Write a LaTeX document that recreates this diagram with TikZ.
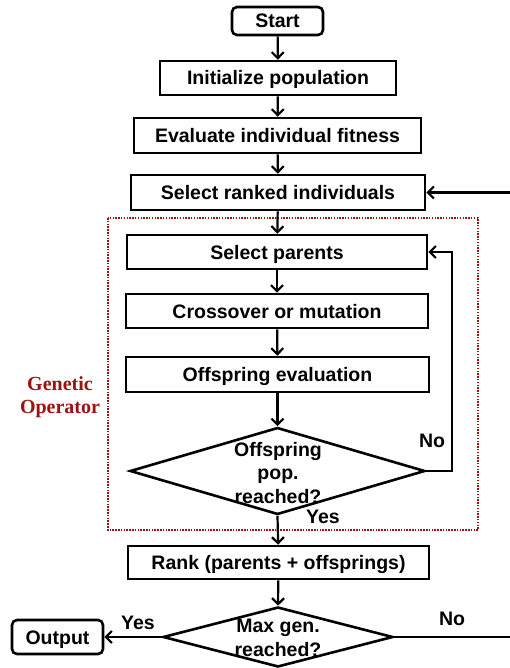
\documentclass[tikz,border=0pt]{standalone}
\usepackage{fontspec}
\setmainfont{Liberation Sans}
\newfontfamily\timesfont{Liberation Serif}
\usetikzlibrary{arrows.meta,shapes.geometric}
\definecolor{gored}{RGB}{155,18,18}
\begin{document}
\begin{tikzpicture}[x=1pt,y=-1pt,
  font=\bfseries\fontsize{19.5}{23.5}\selectfont,
  box/.style={draw, line width=2.6pt, inner sep=0pt, align=center, text height=14pt, text depth=0pt},
  term/.style={box, rounded corners=5pt},
  dia/.style={draw, diamond, line width=2.6pt, inner sep=0pt},
  arr/.style={line width=2.2pt, -{Straight Barb[length=6pt,width=12pt,line width=2.2pt]}},
  lab/.style={inner sep=0pt, align=center}]
\useasboundingbox (0,0) rectangle (510,668);
\clip (0,0) rectangle (510,668);
\fill[white] (0,0) rectangle (510,668);

\node[term, minimum width=91pt, minimum height=28pt] (start) at (277.5,21) {Start};
\node[box, minimum width=236pt, minimum height=34pt] (init) at (278,78) {Initialize population};
\node[box, minimum width=287pt, minimum height=35pt] (eval) at (277.5,135.5) {Evaluate individual fitness};
\node[box, minimum width=294pt, minimum height=35pt] (sel) at (278,192.5) {Select ranked individuals};
\node[box, minimum width=300pt, minimum height=34pt] (par) at (277,252) {Select parents};
\node[box, minimum width=302pt, minimum height=34pt] (cross) at (277,311) {Crossover or mutation};
\node[box, minimum width=303pt, minimum height=35pt] (offs) at (277.5,374.5) {Offspring evaluation};
\node[dia, minimum width=295pt, minimum height=87pt] (d1) at (277.5,471) {};
\node[lab] (d1t) at (278,473) {Offspring\\pop.\\reached?};
\node[box, minimum width=301pt, minimum height=33pt] (rank) at (278.5,562.5) {Rank (parents + offsprings)};
\node[dia, minimum width=230pt, minimum height=60pt] (d2) at (278,637) {};
\node[lab] (d2t) at (278,638) {Max gen.\\reached?};
\node[term, minimum width=91pt, minimum height=34pt] (out) at (57.5,637) {Output};

\draw[gored, line width=2.4pt, dash pattern=on 1.5pt off 1.3pt] (108,218) rectangle (478,530);
\node[lab, text=gored, font=\timesfont\bfseries\fontsize{20}{23.5}\selectfont] (gen) at (60,397) {Genetic\\Operator};

\draw[arr] (start) -- (init);
\draw[arr] (init) -- (eval);
\draw[arr] (eval) -- (sel);
\draw[arr] (sel) -- (par);
\draw[arr] (par) -- (cross);
\draw[arr] (cross) -- (offs);
\draw[arr] (offs) -- (d1.north);
\draw[arr] (d1.south) -- (rank);
\draw[arr] (rank) -- (d2.north);
\draw[arr] (d2.west) -- (out);

\coordinate (nl) at (452,252);
\draw[arr] (d1.east) -| (nl) -- (par.east);
\coordinate (r1) at (522,637);
\coordinate (r2) at (522,192.5);
\draw[arr] (d2.east) -- (r1) -- (r2) -- (sel.east);

\node[lab] (no1) at (432,441) {No};
\node[lab] (yes1) at (323,517) {Yes};
\node[lab] (yes2) at (138,623) {Yes};
\node[lab] (no2) at (452,619) {No};
\end{tikzpicture}
\end{document}
